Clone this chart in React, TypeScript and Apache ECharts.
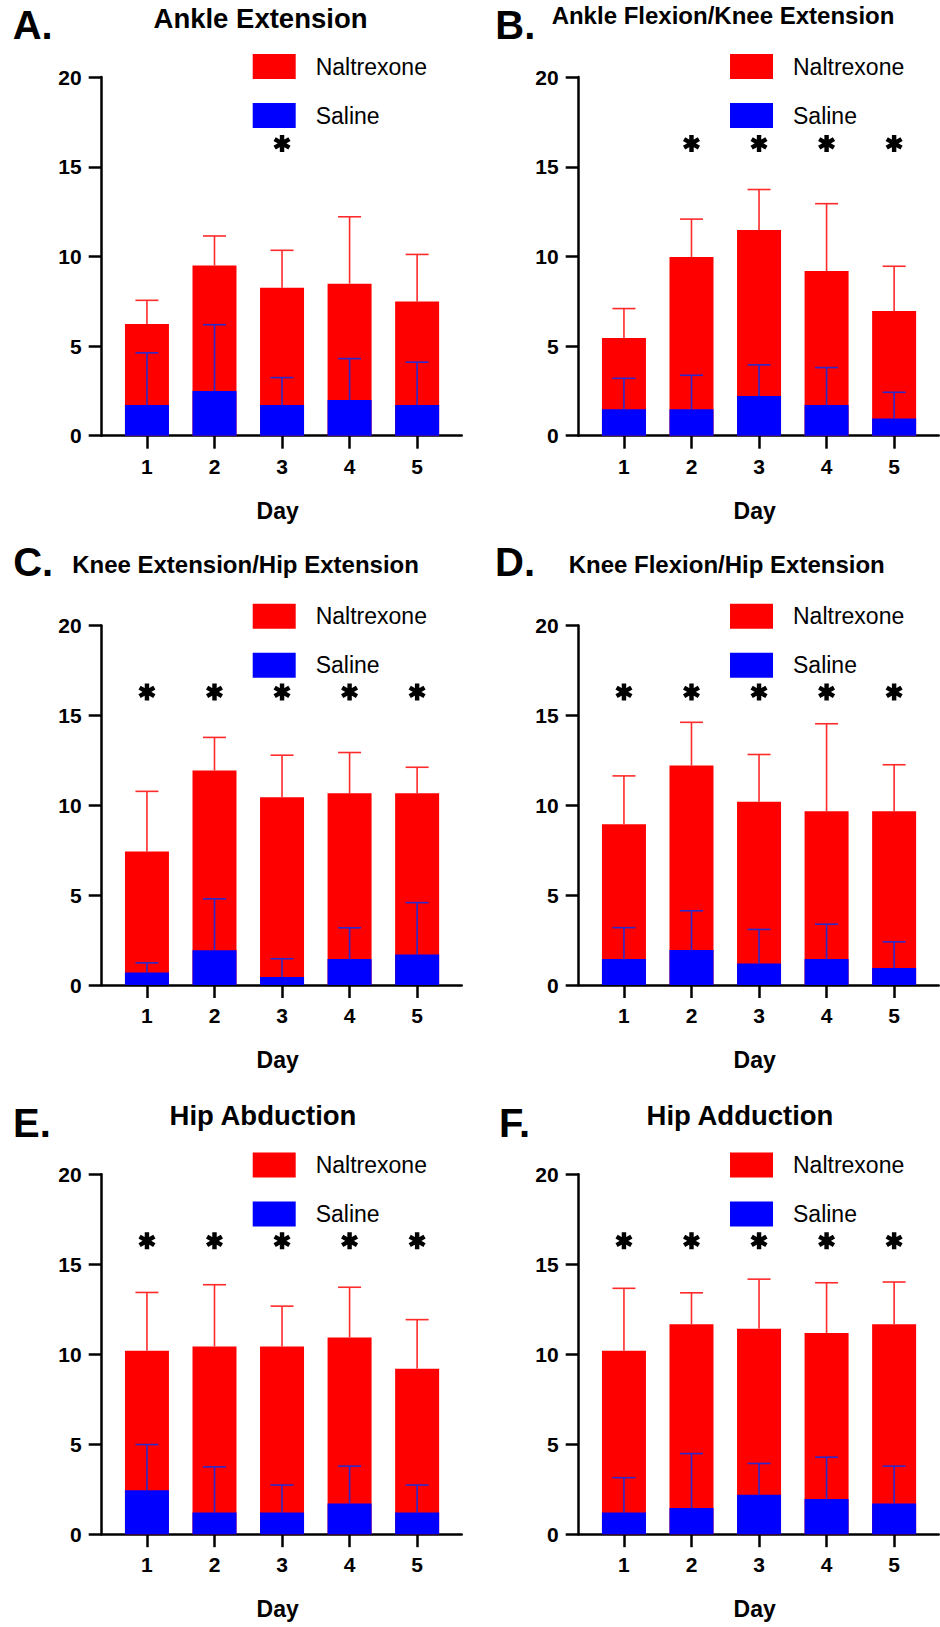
import React, { useEffect, useRef } from "react";
import * as echarts from "echarts";

// Days of the protocol (x positions of every bar group)
const days = [1, 2, 3, 4, 5];
const dayTicks = [1, 2, 3, 4, 5];

// Mean ± SEM per panel and treatment
const ankleExtNal = [6.23, 9.49, 8.25, 8.48, 7.48];
const ankleExtNalSem = [1.32, 1.65, 2.09, 3.73, 2.63];
const ankleExtSal = [1.71, 2.49, 1.71, 1.99, 1.71];
const ankleExtSalSem = [2.91, 3.7, 1.53, 2.31, 2.39];
const ankleExtSig = [3];

const ankleFlexNal = [5.45, 9.97, 11.47, 9.18, 6.96];
const ankleFlexNalSem = [1.64, 2.11, 2.26, 3.76, 2.49];
const ankleFlexSal = [1.48, 1.48, 2.21, 1.71, 0.96];
const ankleFlexSalSem = [1.72, 1.89, 1.74, 2.09, 1.46];
const ankleFlexSig = [2, 3, 4, 5];

const kneeExtNal = [7.43, 11.93, 10.44, 10.67, 10.67];
const kneeExtNalSem = [3.34, 1.84, 2.34, 2.26, 1.44];
const kneeExtSal = [0.69, 1.93, 0.44, 1.44, 1.69];
const kneeExtSalSem = [0.54, 2.86, 1.02, 1.74, 2.89];
const kneeExtSig = [1, 2, 3, 4, 5];

const kneeFlexNal = [8.94, 12.21, 10.19, 9.67, 9.67];
const kneeFlexNalSem = [2.69, 2.4, 2.63, 4.86, 2.58];
const kneeFlexSal = [1.44, 1.94, 1.19, 1.44, 0.94];
const kneeFlexSalSem = [1.75, 2.19, 1.9, 1.94, 1.46];
const kneeFlexSig = [1, 2, 3, 4, 5];

const hipAbdNal = [10.19, 10.43, 10.43, 10.93, 9.19];
const hipAbdNalSem = [3.24, 3.43, 2.24, 2.79, 2.73];
const hipAbdSal = [2.44, 1.2, 1.2, 1.71, 1.2];
const hipAbdSalSem = [2.54, 2.54, 1.53, 2.07, 1.53];
const hipAbdSig = [1, 2, 3, 4, 5];

const hipAddNal = [10.19, 11.67, 11.41, 11.18, 11.67];
const hipAddNalSem = [3.47, 1.74, 2.76, 2.79, 2.34];
const hipAddSal = [1.2, 1.45, 2.19, 1.96, 1.71];
const hipAddSalSem = [1.94, 3.03, 1.74, 2.32, 2.07];
const hipAddSig = [1, 2, 3, 4, 5];

// Height at which the significance stars sit
const STAR_LEVEL = 16.3;

const panelTitles = [
  "Ankle Extension",
  "Ankle Flexion/Knee Extension",
  "Knee Extension/Hip Extension",
  "Knee Flexion/Hip Extension",
  "Hip Abduction",
  "Hip Adduction",
];
const panelLetters = ["A.", "B.", "C.", "D.", "E.", "F."];

const panels = [
  { nal: ankleExtNal, nalSem: ankleExtNalSem, sal: ankleExtSal, salSem: ankleExtSalSem, sig: ankleExtSig },
  { nal: ankleFlexNal, nalSem: ankleFlexNalSem, sal: ankleFlexSal, salSem: ankleFlexSalSem, sig: ankleFlexSig },
  { nal: kneeExtNal, nalSem: kneeExtNalSem, sal: kneeExtSal, salSem: kneeExtSalSem, sig: kneeExtSig },
  { nal: kneeFlexNal, nalSem: kneeFlexNalSem, sal: kneeFlexSal, salSem: kneeFlexSalSem, sig: kneeFlexSig },
  { nal: hipAbdNal, nalSem: hipAbdNalSem, sal: hipAbdSal, salSem: hipAbdSalSem, sig: hipAbdSig },
  { nal: hipAddNal, nalSem: hipAddNalSem, sal: hipAddSal, salSem: hipAddSalSem, sig: hipAddSig },
];

// Layout
const FONT = '"Liberation Sans", Arial, Helvetica, sans-serif';
const colLeft = [101.7, 578.7];
const rowTop = [77.1, 625.4, 1174.2];
const rowHeight = [358.6, 359.6, 360];
const GRID_W = 360;
const legendLeft = [252.7, 730];
const legendTop = [54, 603.7, 1152.6];
const titlePos = [
  [260.5, 18.3, 27.5],
  [723, 15.5, 24],
  [245.5, 564.1, 24],
  [726.7, 564.1, 24],
  [263, 1115.9, 27.5],
  [740, 1115.9, 27.5],
];
const letterPos = [
  [12.7, 25],
  [495.3, 25],
  [13.2, 561.5],
  [495, 561.5],
  [13, 1122.7],
  [499, 1122.7],
];

const RED = "#ff0000";
const BLUE = "#0000ff";
const RED_ERR = "#ff2a2a";
const BLUE_ERR = "#2a2acc";
// Six-armed bold asterisk (vertical bar plus two bars at ±60°)
const STAR_PATH =
  "path://M37,0H63V100H37Z M0.2,36.26L13.2,13.74L99.8,63.74L86.8,86.26Z M13.2,86.26L0.2,63.74L86.8,13.74L99.8,36.26Z";

function errorBarRenderer(color: string) {
  return (params: any, api: any) => {
    const x = api.value(0);
    const lo = api.coord([x, api.value(1)]);
    const hi = api.coord([x, api.value(2)]);
    const half = 11.5;
    const style = { stroke: color, lineWidth: 1.6, fill: "none" };
    return {
      type: "group",
      children: [
        { type: "line", shape: { x1: lo[0], y1: lo[1], x2: hi[0], y2: hi[1] }, style },
        { type: "line", shape: { x1: hi[0] - half, y1: hi[1], x2: hi[0] + half, y2: hi[1] }, style },
      ],
    };
  };
}

function buildOption() {
  const grid: any[] = [];
  const xAxis: any[] = [];
  const yAxis: any[] = [];
  const legend: any[] = [];
  const series: any[] = [];
  const graphic: any[] = [];
  const axisLineStyle = { color: "#000", width: 2.5 };

  panels.forEach((p, g) => {
    const col = g % 2;
    const row = Math.floor(g / 2);
    grid.push({
      left: colLeft[col],
      top: rowTop[row],
      width: GRID_W,
      height: rowHeight[row],
      containLabel: false,
      outerBoundsMode: "none",
    });
    xAxis.push({
      gridIndex: g,
      type: "value",
      min: 0.33,
      max: 5.66,
      axisLine: { show: true, onZero: false, lineStyle: axisLineStyle },
      axisTick: { show: true, customValues: dayTicks, length: 13, lineStyle: axisLineStyle },
      axisLabel: {
        customValues: dayTicks,
        margin: 20,
        fontSize: 21,
        fontWeight: "bold",
        color: "#000",
        fontFamily: FONT,
      },
      splitLine: { show: false },
      name: "Day",
      nameLocation: "middle",
      nameGap: 63.5,
      nameTextStyle: {
        fontSize: 23,
        fontWeight: "bold",
        color: "#000",
        fontFamily: FONT,
        padding: [0, 8, 0, 0],
      },
    });
    yAxis.push({
      gridIndex: g,
      type: "value",
      min: 0,
      max: 20,
      interval: 5,
      axisLine: { show: true, lineStyle: axisLineStyle },
      axisTick: { show: true, length: 13, lineStyle: axisLineStyle },
      axisLabel: {
        margin: 20,
        fontSize: 21,
        fontWeight: "bold",
        color: "#000",
        fontFamily: FONT,
      },
      splitLine: { show: false },
    });
    legend.push({
      data: ["Naltrexone", "Saline"],
      orient: "vertical",
      left: legendLeft[col],
      top: legendTop[row],
      padding: 0,
      icon: "rect",
      itemWidth: 43,
      itemHeight: 25,
      itemGap: 24,
      selectedMode: false,
      textStyle: { fontSize: 23, color: "#000", fontFamily: FONT, padding: [0, 0, 0, 15] },
    });

    series.push({
      type: "bar",
      name: "Naltrexone",
      xAxisIndex: g,
      yAxisIndex: g,
      barWidth: 44,
      barGap: "-100%",
      itemStyle: { color: RED },
      data: days.map((d, i) => [d, p.nal[i]]),
    });
    series.push({
      type: "bar",
      name: "Saline",
      xAxisIndex: g,
      yAxisIndex: g,
      barWidth: 44,
      barGap: "-100%",
      itemStyle: { color: BLUE },
      data: days.map((d, i) => [d, p.sal[i]]),
    });
    series.push({
      type: "custom",
      name: "Naltrexone SEM",
      xAxisIndex: g,
      yAxisIndex: g,
      renderItem: errorBarRenderer(RED_ERR),
      encode: { x: 0, y: [1, 2] },
      data: days.map((d, i) => [d, p.nal[i], p.nal[i] + p.nalSem[i]]),
      z: 3,
    });
    series.push({
      type: "custom",
      name: "Saline SEM",
      xAxisIndex: g,
      yAxisIndex: g,
      renderItem: errorBarRenderer(BLUE_ERR),
      encode: { x: 0, y: [1, 2] },
      data: days.map((d, i) => [d, p.sal[i], p.sal[i] + p.salSem[i]]),
      z: 4,
    });
    series.push({
      type: "scatter",
      name: "p < 0.05",
      xAxisIndex: g,
      yAxisIndex: g,
      symbol: STAR_PATH,
      symbolSize: [17, 17],
      itemStyle: { color: "#000", opacity: 1 },
      data: p.sig.map((d) => [d, STAR_LEVEL]),
      z: 5,
    });

    const [tx, ty, tf] = titlePos[g];
    graphic.push({
      type: "text",
      x: tx,
      y: ty,
      style: {
        text: panelTitles[g],
        fontSize: tf,
        fontWeight: "bold",
        fontFamily: FONT,
        fill: "#000",
        align: "center",
        verticalAlign: "middle",
      },
    });
    const [lx, ly] = letterPos[g];
    graphic.push({
      type: "text",
      x: lx,
      y: ly,
      style: {
        text: panelLetters[g],
        fontSize: 40,
        fontWeight: "bold",
        fontFamily: FONT,
        fill: "#000",
        align: "left",
        verticalAlign: "middle",
      },
    });
  });

  return {
    animation: false,
    backgroundColor: "#ffffff",
    textStyle: { fontFamily: FONT },
    grid,
    xAxis,
    yAxis,
    legend,
    series,
    graphic,
  };
}

export default function App() {
  const ref = useRef<HTMLDivElement>(null);
  useEffect(() => {
    if (!ref.current) return;
    const chart = echarts.init(ref.current, undefined, { renderer: "svg" });
    chart.setOption(buildOption() as any);
    return () => chart.dispose();
  }, []);
  return (
    <div
      ref={ref}
      style={{ position: "absolute", left: 0, top: 0, width: 940, height: 1627, background: "#fff" }}
    />
  );
}
